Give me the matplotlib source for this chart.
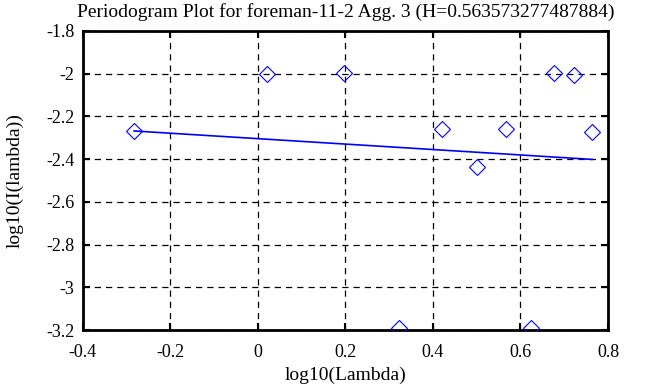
import matplotlib
matplotlib.use("Agg")
import matplotlib.pyplot as plt
from matplotlib.ticker import FuncFormatter
import numpy as np

# periodogram points (log10 lambda, log10 I(lambda))
log_lambda = [-0.283, 0.021, 0.197, 0.322, 0.421, 0.501, 0.567, 0.624, 0.677, 0.722, 0.764]
log_I = [-2.268, -2.001, -1.997, -3.19, -2.259, -2.437, -2.259, -3.19, -1.997, -2.006, -2.273]

H = 0.563573277487884
intercept = -2.304
title = "Periodogram Plot for foreman-11-2 Agg. 3 (H=%s)" % repr(H)

plt.rcParams['font.family'] = ['Liberation Serif', 'DejaVu Serif']
plt.rcParams['font.size'] = 13

fig = plt.figure(figsize=(6.63, 3.87), dpi=100)
ax = fig.add_axes([0.125, 0.147, 0.792, 0.773])

x = np.array(log_lambda)
ax.plot(x, log_I, linestyle='none', marker='D', markersize=8,
        markerfacecolor='none', markeredgecolor='blue', markeredgewidth=0.8, zorder=3)

xfit = np.array([min(log_lambda), max(log_lambda)])
ax.plot(xfit, intercept + (1 - 2 * H) * xfit, color='blue', linewidth=1.2, zorder=3)

ax.set_xlim(-0.4, 0.8)
ax.set_ylim(-3.2, -1.8)
ax.set_xticks(np.arange(-0.4, 0.81, 0.2))
ax.set_yticks(np.arange(-3.2, -1.79, 0.2))
fmt = FuncFormatter(lambda v, p: "%g" % round(v, 2))
ax.xaxis.set_major_formatter(fmt)
ax.yaxis.set_major_formatter(fmt)
ax.grid(True, color='black', linestyle=(0, (5, 4)), linewidth=0.9)
ax.tick_params(direction='in', top=True, right=True, length=5, width=1.5, colors='black')
ax.tick_params(axis='x', pad=10)
ax.tick_params(axis='y', pad=6)
for s in ax.spines.values():
    s.set_linewidth(2)

ax.set_xlabel("log10(Lambda)", fontsize=14, labelpad=4)
ax.set_ylabel("log10(I(lambda))", fontsize=14, labelpad=16)
ax.set_title(title, fontsize=14, pad=10)

fig.savefig("out.png", dpi=100)
